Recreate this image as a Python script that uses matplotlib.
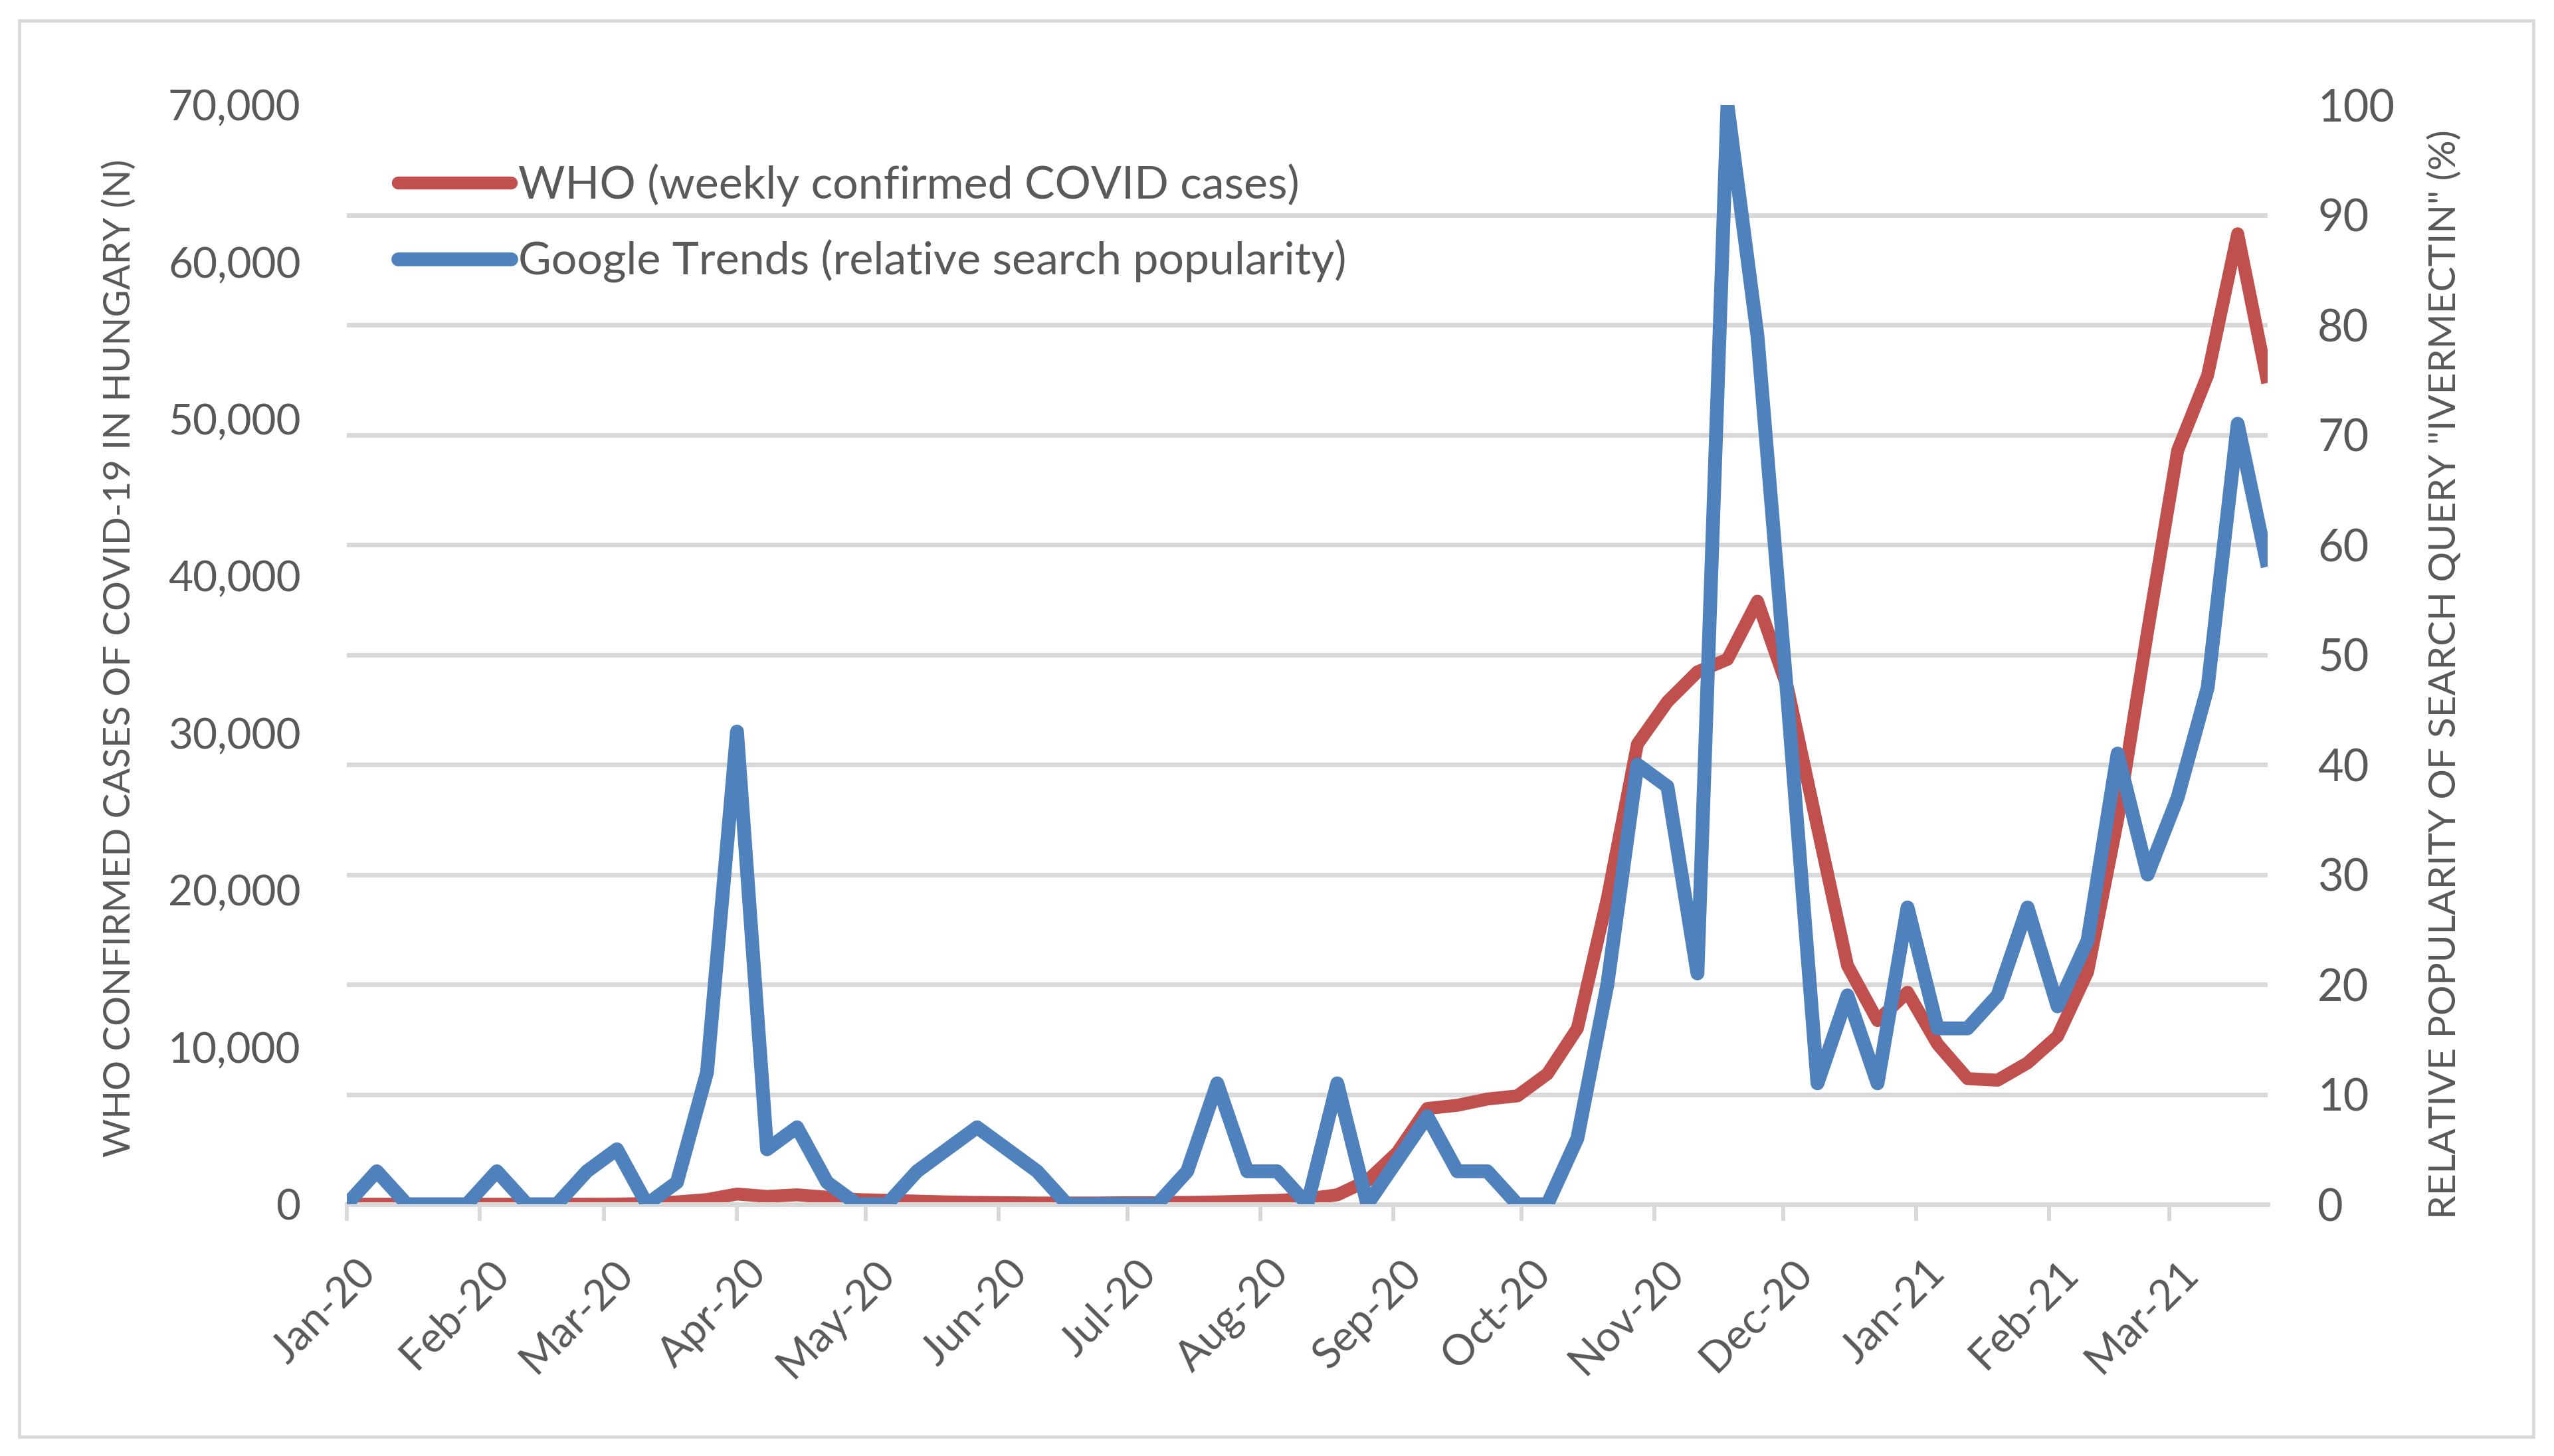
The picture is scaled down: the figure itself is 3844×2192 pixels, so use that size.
import matplotlib

matplotlib.use("Agg")

import matplotlib.dates as mdates
import matplotlib.pyplot as plt
import matplotlib.transforms as mtransforms
import numpy as np
import pandas as pd
from matplotlib.patches import Rectangle

plt.rcParams["font.family"] = ["Lato", "DejaVu Sans"]

# weekly data, Jan 2020 - Mar 2021
week_start = "2020-01-05"
n_weeks = 65

who_cases = [
    0, 0, 0, 0, 0, 0, 0, 0, 0, 10,
    50, 150, 300, 650, 500, 600, 450, 300, 250, 200,
    150, 120, 100, 80, 80, 80, 100, 100, 120, 150,
    200, 250, 350, 600, 1500, 3300, 6100, 6300, 6700, 6900,
    8300, 11200, 19500, 29300, 32000, 33900, 34700, 38400, 32900, 24000,
    15200, 11700, 13500, 10200, 8000, 7900, 9000, 10700, 14800, 24500,
    36500, 48000, 52800, 61800, 52300,
]

google_trends = [
    0, 3, 0, 0, 0, 3, 0, 0, 3, 5,
    0, 2, 12, 43, 5, 7, 2, 0, 0, 3,
    5, 7, 5, 3, 0, 0, 0, 0, 3, 11,
    3, 3, 0, 11, 0, 4, 8, 3, 3, 0,
    0, 6, 20, 40, 38, 21, 100, 79, 46, 11,
    19, 11, 27, 16, 16, 19, 27, 18, 24, 41,
    30, 37, 47, 71, 58,
]

left_ticks = [0, 10000, 20000, 30000, 40000, 50000, 60000, 70000]
right_ticks = [0, 10, 20, 30, 40, 50, 60, 70, 80, 90, 100]

label_who = "WHO (weekly confirmed COVID cases)"
label_gt = "Google Trends (relative search popularity)"
ylabel_left = "WHO CONFIRMED CASES OF COVID-19 IN HUNGARY (N)"
ylabel_right = 'RELATIVE POPULARITY OF SEARCH QUERY "IVERMECTIN" (%)'

RED = "#C0504D"
BLUE = "#4F81BD"
GRID = "#D9D9D9"
TEXT = "#595959"


def main() -> None:
    dates = pd.date_range(week_start, periods=n_weeks, freq="7D")
    month_ticks = [dates[0] + pd.DateOffset(months=m) for m in range(15)]

    fig = plt.figure(figsize=(38.44, 21.92), dpi=100)
    fig.patches.append(
        Rectangle((0.0075, 0.0132), 0.9845, 0.9726, transform=fig.transFigure,
                  fill=False, edgecolor=GRID, linewidth=3.5)
    )

    ax = fig.add_axes([0.1358, 0.1729, 0.7521, 0.7550])
    ax2 = ax.twinx()

    ax.plot(dates, who_cases, color=RED, linewidth=14,
            solid_joinstyle="round", solid_capstyle="butt", label=label_who)
    ax2.plot(dates, google_trends, color=BLUE, linewidth=15,
             solid_joinstyle="round", solid_capstyle="butt", label=label_gt)

    ax.set_xlim(dates[0], dates[-1])
    ax.set_ylim(0, 70000)
    ax2.set_ylim(0, 100)

    # horizontal gridlines follow the right axis
    ax.set_yticks(left_ticks)
    ax.set_yticks(np.linspace(0, 70000, len(right_ticks)), minor=True)
    ax.grid(which="minor", axis="y", color=GRID, linewidth=5)
    ax.tick_params(axis="y", which="both", length=0)
    ax.set_yticklabels([f"{v:,}" for v in left_ticks])
    ax.tick_params(axis="y", labelsize=46, labelcolor=TEXT, pad=50)

    ax2.set_yticks(right_ticks)
    ax2.tick_params(axis="y", length=0, labelsize=48, labelcolor=TEXT, pad=54)

    ax.set_xticks(month_ticks)
    ax.xaxis.set_major_formatter(mdates.DateFormatter("%b-%y"))
    ax.tick_params(axis="x", length=18, width=4.3, color=GRID,
                   labelsize=46, labelcolor=TEXT, pad=50)
    shift = mtransforms.ScaledTranslation(0.34, 0, fig.dpi_scale_trans)
    for lab in ax.get_xticklabels():
        lab.set_rotation(45)
        lab.set_ha("right")
        lab.set_va("center")
        lab.set_rotation_mode("anchor")
        lab.set_transform(lab.get_transform() + shift)

    for a in (ax, ax2):
        for side in ("left", "right", "top"):
            a.spines[side].set_visible(False)
    ax2.spines["bottom"].set_visible(False)
    ax.spines["bottom"].set_color(GRID)
    ax.spines["bottom"].set_linewidth(5)

    ax.set_ylabel(ylabel_left, fontsize=40.5, color=TEXT)
    ax.yaxis.label.set_va("center")
    ax.yaxis.set_label_coords(-0.1183, 0.497)
    ax2.set_ylabel(ylabel_right, fontsize=41, color=TEXT, rotation=90)
    ax2.yaxis.label.set_va("center")
    ax2.yaxis.set_label_coords(1.0921, 0.482)

    handles = ax.get_lines() + ax2.get_lines()
    leg = ax2.legend(handles, [h.get_label() for h in handles],
                     loc="upper left", bbox_to_anchor=(0.0266, 0.947),
                     frameon=False, fontsize=49, handlelength=2.5,
                     handletextpad=0.16, labelspacing=0.74, borderpad=0,
                     borderaxespad=0)
    for t in leg.get_texts():
        t.set_color(TEXT)
    for h in leg.legend_handles:
        h.set_solid_capstyle("round")

    fig.savefig("out.png", dpi=100)
    plt.close(fig)


if __name__ == "__main__":
    main()
